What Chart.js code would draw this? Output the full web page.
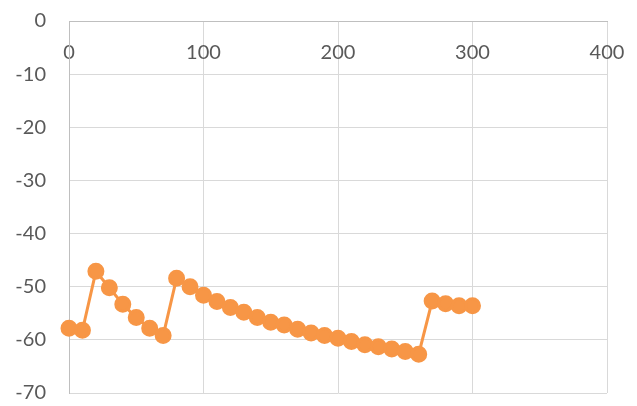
<!DOCTYPE html>
<html>
<head>
<meta charset="utf-8">
<script src="https://cdn.jsdelivr.net/npm/chart.js@4/dist/chart.umd.min.js"></script>
<style>
  html, body { margin: 0; padding: 0; background: #fff; }
  #wrap { width: 637px; height: 406px; }
</style>
</head>
<body>
<div id="wrap"><canvas id="c"></canvas></div>
<script>
const xValues = [0,10,20,30,40,50,60,70,80,90,100,110,120,130,140,150,160,170,180,190,200,210,220,230,240,250,260,270,280,290,300];
const yValues = [-57.8,-58.2,-47.1,-50.2,-53.3,-55.8,-57.8,-59.2,-48.4,-50.0,-51.6,-52.8,-53.9,-54.8,-55.8,-56.7,-57.2,-58.0,-58.7,-59.2,-59.7,-60.3,-60.9,-61.3,-61.7,-62.2,-62.7,-52.7,-53.2,-53.6,-53.6];
const xTicks = [0,100,200,300,400];
const yTicks = [0,-10,-20,-30,-40,-50,-60,-70];

const points = xValues.map((x, i) => ({x: x, y: yValues[i]}));

new Chart(document.getElementById('c'), {
  type: 'line',
  data: {
    datasets: [{
      data: points,
      borderColor: '#F79646',
      backgroundColor: '#F79646',
      pointBackgroundColor: '#F79646',
      pointBorderColor: '#F79646',
      borderWidth: 3,
      pointRadius: 7,
      pointHoverRadius: 7,
      tension: 0,
      fill: false,
      clip: false
    }]
  },
  options: {
    responsive: true,
    maintainAspectRatio: false,
    animation: false,
    events: [],
    layout: { padding: { left: 0, top: 21, right: 30, bottom: 13 } },
    plugins: { legend: { display: false }, tooltip: { enabled: false } },
    scales: {
      x: {
        type: 'linear',
        position: { y: 0 },
        min: xTicks[0],
        max: xTicks[xTicks.length - 1],
        afterBuildTicks: (s) => { s.ticks = xTicks.map(v => ({value: v})); },
        grid: { color: '#D9D9D9', lineWidth: 1, drawTicks: true, tickLength: 20, tickColor: 'rgba(0,0,0,0)' },
        border: { color: '#BFBFBF', width: 1 },
        ticks: {
          padding: 0,
          color: '#595959',
          font: { family: 'Lato', size: 20 },
          maxRotation: 0
        }
      },
      y: {
        type: 'linear',
        position: 'left',
        min: -70,
        max: 0,
        afterBuildTicks: (s) => { s.ticks = yTicks.slice().reverse().map(v => ({value: v})); },
        afterFit: (s) => { s.width = 69; },
        grid: { color: '#D9D9D9', lineWidth: 1, drawTicks: true, tickLength: 23, tickColor: 'rgba(0,0,0,0)' },
        border: { color: '#BFBFBF', width: 1 },
        ticks: {
          padding: 0,
          color: '#595959',
          font: { family: 'Lato', size: 20 }
        }
      }
    }
  }
});
</script>
</body>
</html>
